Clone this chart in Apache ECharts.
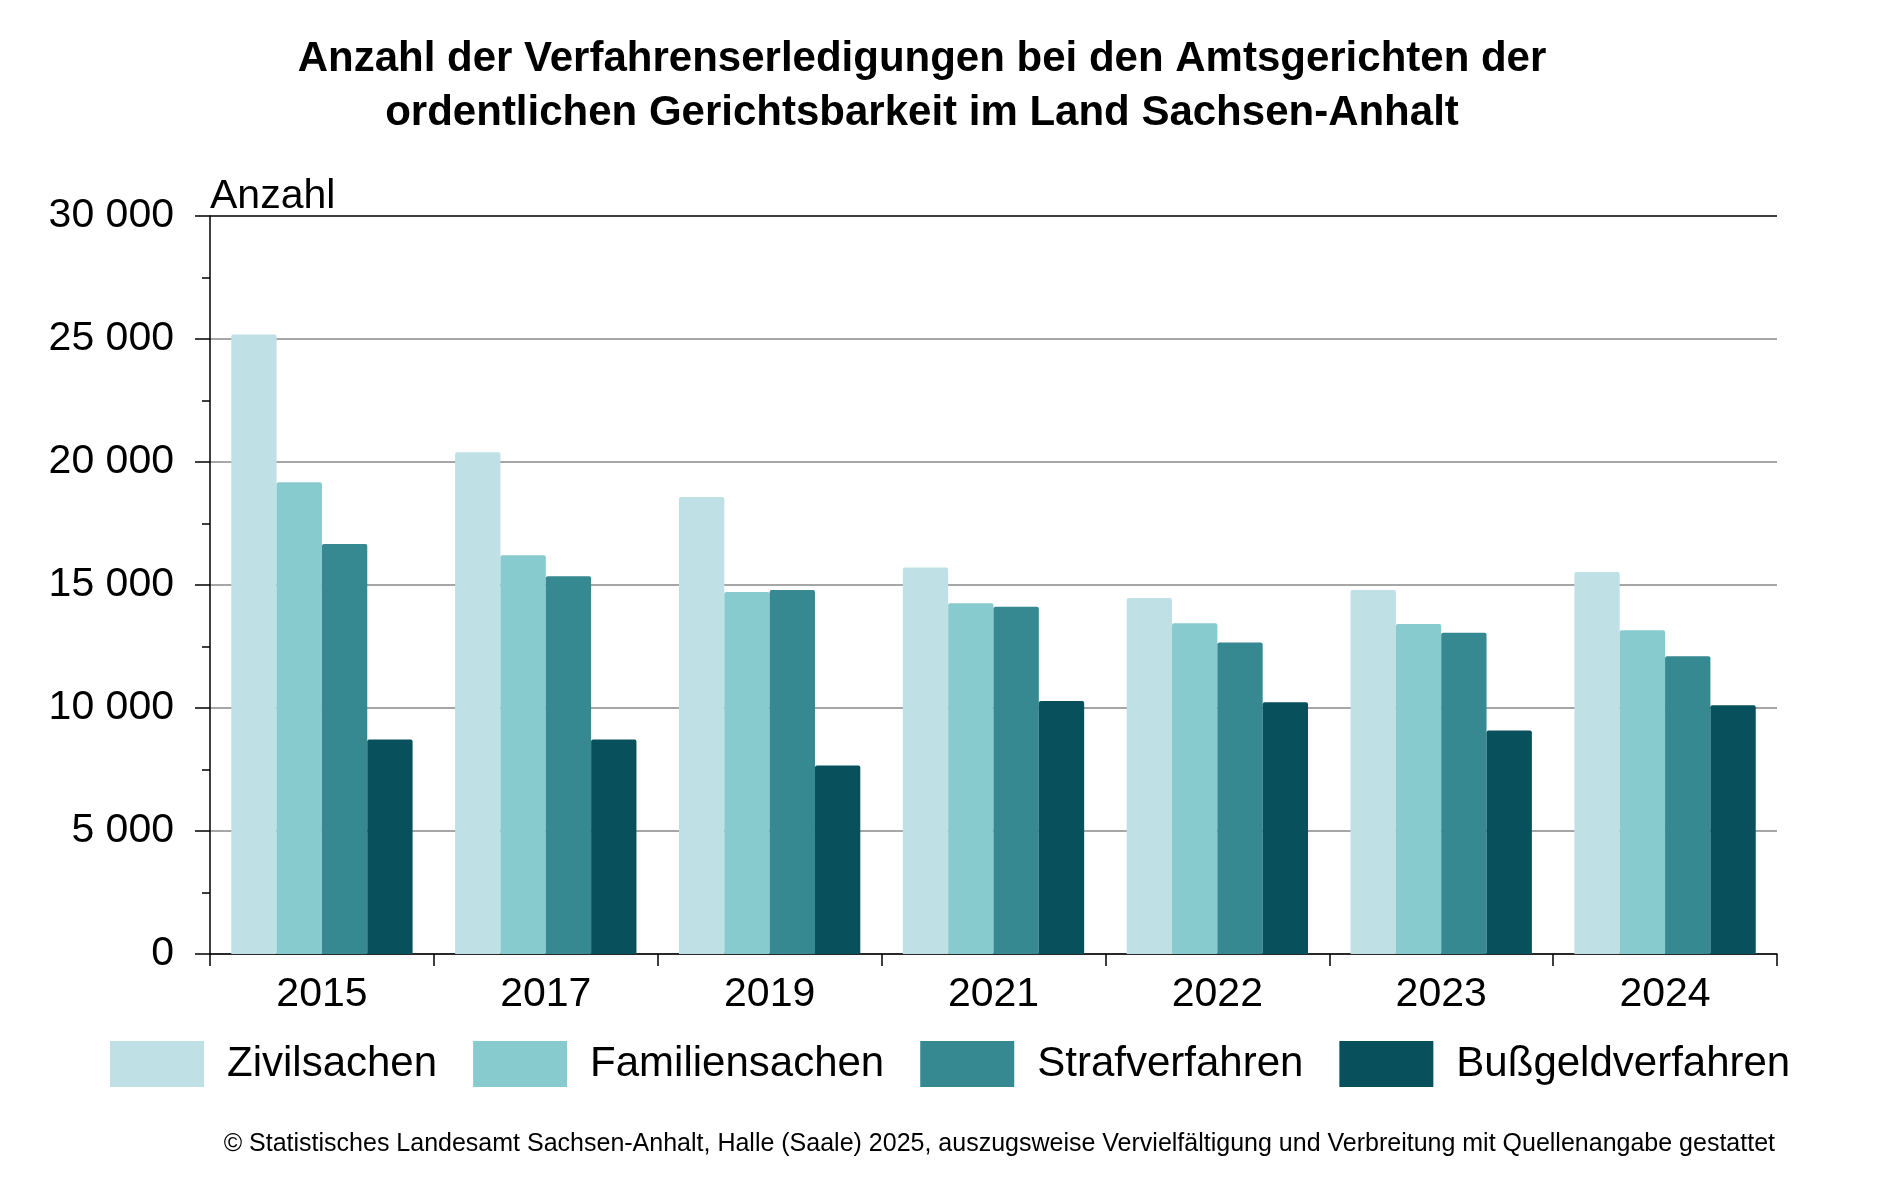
<!DOCTYPE html>
<html><head><meta charset="utf-8">
<script src="https://cdn.jsdelivr.net/npm/echarts@6/dist/echarts.min.js"></script>
<style>html,body{margin:0;padding:0;background:#fff}#c{width:1890px;height:1181px}</style>
</head><body><div id="c"></div>
<script>
const years = ['2015','2017','2019','2021','2022','2023','2024'];
const seriesNames = ['Zivilsachen','Familiensachen','Strafverfahren','Bußgeldverfahren'];
const zivilsachen = [25180, 20400, 18580, 15710, 14470, 14800, 15530];
const familiensachen = [19180, 16210, 14720, 14260, 13450, 13410, 13160];
const strafverfahren = [16670, 15360, 14800, 14120, 12660, 13060, 12100];
const bussgeldverfahren = [8720, 8720, 7660, 10280, 10230, 9090, 10110];
const colors = ['#BFE1E5','#88CBCF','#368891','#09505D'];
const titleLines = ['Anzahl der Verfahrenserledigungen bei den Amtsgerichten der','ordentlichen Gerichtsbarkeit im Land Sachsen-Anhalt'];
const footer = '© Statistisches Landesamt Sachsen-Anhalt, Halle (Saale) 2025, auszugsweise Vervielfältigung und Verbreitung mit Quellenangabe gestattet';

const F = '"Liberation Sans", Arial, sans-serif';
const data = [zivilsachen, familiensachen, strafverfahren, bussgeldverfahren];
const chart = echarts.init(document.getElementById('c'));
chart.setOption({
  animation: false,
  backgroundColor: '#fff',
  textStyle: {fontFamily: F},
  title: {
    text: titleLines.join('\n'), left: 917, top: 27, textAlign: 'center',
    textStyle: {fontFamily: F, fontWeight: 'bold', fontSize: 42, lineHeight: 54, color: '#000'}
  },
  grid: {left: 210, right: 113, top: 216, bottom: 227, containLabel: false},
  legend: {
    data: seriesNames, left: 105, top: 1036, itemWidth: 94, itemHeight: 46, itemGap: 36,
    icon: 'rect',
    textStyle: {fontFamily: F, fontSize: 42, color: '#000', padding: [0,0,0,18]}
  },
  xAxis: {
    type: 'category', data: years,
    axisLine: {lineStyle: {color: '#000', width: 1.5}},
    axisTick: {show: true, length: 12, lineStyle: {color: '#000', width: 1.5}},
    axisLabel: {fontFamily: F, fontSize: 41, color: '#000', margin: 20}
  },
  yAxis: {
    type: 'value', min: 0, max: 30000, interval: 5000,
    axisLine: {show: true, lineStyle: {color: '#000', width: 1.5}},
    axisTick: {show: true, length: 15, lineStyle: {color: '#000', width: 1.5}},
    minorTick: {show: true, splitNumber: 2, length: 8, lineStyle: {color: '#000', width: 1.5}},
    splitLine: {show: true, lineStyle: {color: ['#888','#888','#888','#888','#888','#888','#000'], width: 1.5}},
    axisLabel: {fontFamily: F, fontSize: 41, color: '#000', margin: 36,
      formatter: v => String(v).replace(/\B(?=(\d{3})+(?!\d))/g, ' ')}
  },
  series: seriesNames.map((n, i) => ({
    name: n, type: 'bar', data: data[i], barGap: '0%', barCategoryGap: '19%',
    itemStyle: {color: colors[i], borderRadius: [2,2,0,0]}
  })),
  graphic: [
    {type: 'text', left: 210, top: 176, style: {text: 'Anzahl', font: '41px ' + F, fill: '#000'}},
    {type: 'text', right: 115, top: 1132, style: {text: footer, font: '25px ' + F, fill: '#000'}}
  ]
});
</script></body></html>
